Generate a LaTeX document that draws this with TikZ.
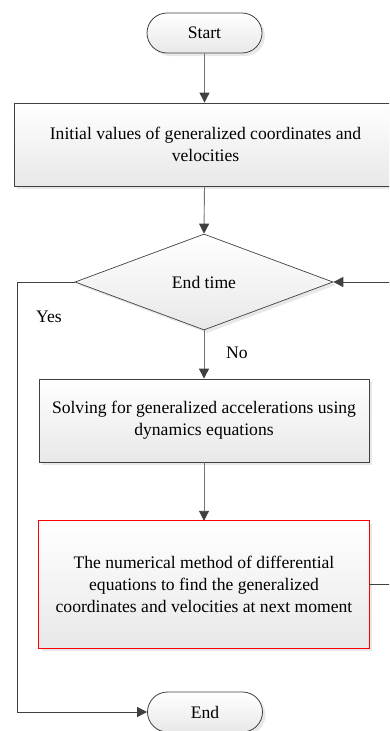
\documentclass[tikz,border=0pt]{standalone}
\usepackage{fontspec}
\setmainfont{Liberation Serif}
\usetikzlibrary{shapes.misc,shapes.geometric,shadows,arrows.meta}

\begin{document}
\begin{tikzpicture}[x=1pt,y=-1pt,
  every node/.style={font=\fontsize{17.6}{22}\selectfont, align=center},
  boxfill/.style={top color=white, bottom color=black!9},
  shade/.style={drop shadow={shadow xshift=3pt, shadow yshift=-3pt, fill=black!9, opacity=1}},
  term/.style={rounded rectangle, draw=black!75, line width=0.8pt, boxfill, shade,
    minimum width=115pt, minimum height=40pt, inner sep=0pt},
  procbox/.style={rectangle, draw=black!75, line width=0.8pt, boxfill, shade, inner sep=0pt},
  alertbox/.style={rectangle, boxfill, shade, inner sep=0pt},
  alertframe/.style={draw=red, line width=1pt},
  decide/.style={diamond, draw=black!75, line width=0.7pt, boxfill, shade, inner sep=0pt,
    minimum width=258pt, minimum height=96pt, aspect=2.69},
  flow/.style={draw=black!55, line width=0.9pt, -{Triangle[length=10pt,width=10pt,fill=black!75,color=black!75]}},
  link/.style={draw=black!75, line width=0.8pt},
  lab/.style={inner sep=0pt}
]
\useasboundingbox (0,0) rectangle (389,731);
\clip (0,0) rectangle (389,731);

% terminals
\node[term] (start) at (204.5,33) {Start};
\node[term] (stop) at (205,712) {End};

% process steps
\node[procbox, minimum width=383pt, minimum height=83pt] (init) at (205.5,144.5)
  {Initial values of generalized coordinates and\\velocities};
\node[decide] (check) at (204,282) {End time};
\node[procbox, minimum width=330pt, minimum height=83pt] (solve) at (204,420.5)
  {Solving for generalized accelerations using\\dynamics equations};
\node[alertbox, minimum width=330pt, minimum height=127pt] (integ) at (204,584.5)
  {The numerical method of differential\\equations to find the generalized\\coordinates and velocities at next moment};
\draw[alertframe] (integ.north west) rectangle (integ.south east);

% branch labels
\node[lab] (yes) at (49,317) {Yes};
\node[lab] (no) at (237,353) {No};

% corner points of the routed connectors
\coordinate (yturn) at (17,282);
\coordinate (ybottom) at (17,712);
\coordinate (lright) at (400,584.5);
\coordinate (ltop) at (400,282);

% straight flow
\draw[flow] (start) -- (start |- init.north);
\draw[flow] (start |- init.south) -- (check.north);
\draw[flow] (check.south) -- (solve.north);
\draw[flow] (solve.south) -- (integ.north);

% yes branch to End
\draw[link] (check.west) -- (yturn) -- (ybottom);
\draw[flow, draw=black!75] (ybottom) -- (stop.west);

% loop back to the decision
\draw[link] (integ.east) -- (lright) -- (ltop);
\draw[flow, draw=black!75] (ltop) -- (check.east);
\end{tikzpicture}
\end{document}
